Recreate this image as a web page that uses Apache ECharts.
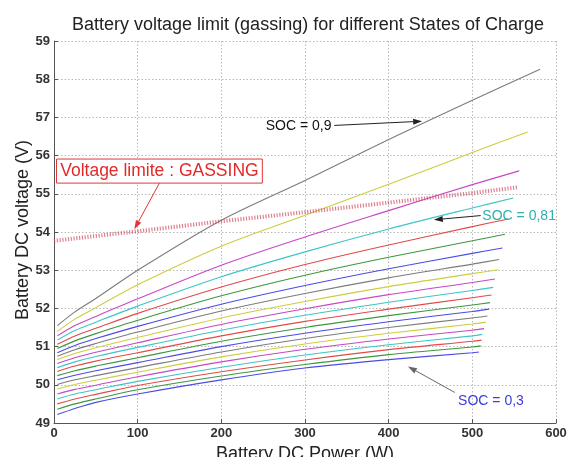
<!DOCTYPE html>
<html>
<head>
<meta charset="utf-8">
<script src="https://cdn.jsdelivr.net/npm/echarts@6/dist/echarts.min.js"></script>
<style>
html,body{margin:0;padding:0;background:#fff;}
#chart{width:573px;height:457px;}
</style>
</head>
<body>
<div id="chart"></div>
<script>
// ---- Data ----
const titleText = 'Battery voltage limit (gassing) for different States of Charge';
const xAxisName = 'Battery DC Power (W)';
const yAxisName = 'Battery DC voltage (V)';
const xTickValues = [0, 100, 200, 300, 400, 500, 600];
const yTickValues = [49, 50, 51, 52, 53, 54, 55, 56, 57, 58, 59];

// State of charge of each curve, from bottom (0.30) to top (0.90)
const socValues = [0.30, 0.33, 0.36, 0.39, 0.42, 0.45, 0.48, 0.51, 0.54, 0.57, 0.60,
                   0.63, 0.66, 0.69, 0.72, 0.75, 0.78, 0.81, 0.84, 0.87, 0.90];
// Power (W) at which each curve was read (last point = curve end, per curve)
const samplePower = [4, 25, 50, 100, 200, 300, 400, 500];
const endPower = [508, 510, 511, 512, 514, 516, 518, 520, 521, 523, 525,
                  527, 531, 532, 536, 539, 543, 549, 556, 566, 581];
// Voltage (V) at samplePower and then at endPower, per curve
const v30 = [49.22, 49.38, 49.54, 49.76, 50.13, 50.44, 50.66, 50.84, 50.86];
const v33 = [49.36, 49.50, 49.63, 49.87, 50.23, 50.53, 50.79, 50.99, 51.02];
const v36 = [49.50, 49.63, 49.75, 49.98, 50.34, 50.65, 50.92, 51.14, 51.17];
const v39 = [49.63, 49.76, 49.87, 50.09, 50.46, 50.78, 51.05, 51.28, 51.32];
const v42 = [49.76, 49.88, 49.99, 50.21, 50.60, 50.93, 51.20, 51.43, 51.47];
const v45 = [49.89, 50.01, 50.12, 50.33, 50.73, 51.07, 51.35, 51.59, 51.64];
const v48 = [50.01, 50.13, 50.24, 50.45, 50.86, 51.21, 51.50, 51.75, 51.80];
const v51 = [50.13, 50.25, 50.37, 50.58, 51.00, 51.35, 51.65, 51.92, 51.98];
const v54 = [50.24, 50.37, 50.49, 50.71, 51.14, 51.50, 51.81, 52.09, 52.15];
const v57 = [50.35, 50.49, 50.62, 50.84, 51.28, 51.66, 51.98, 52.28, 52.35];
const v60 = [50.45, 50.60, 50.74, 50.98, 51.43, 51.82, 52.16, 52.47, 52.55];
const v63 = [50.56, 50.71, 50.85, 51.10, 51.58, 51.99, 52.36, 52.68, 52.77];
const v66 = [50.66, 50.82, 50.97, 51.24, 51.75, 52.18, 52.57, 52.91, 53.01];
const v69 = [50.75, 50.92, 51.08, 51.38, 51.93, 52.39, 52.80, 53.16, 53.28];
const v72 = [50.84, 51.03, 51.21, 51.53, 52.11, 52.60, 53.04, 53.44, 53.58];
const v75 = [50.95, 51.15, 51.34, 51.69, 52.33, 52.87, 53.34, 53.77, 53.94];
const v78 = [51.06, 51.28, 51.48, 51.87, 52.56, 53.15, 53.66, 54.14, 54.34];
const v81 = [51.17, 51.42, 51.64, 52.06, 52.83, 53.48, 54.08, 54.63, 54.89];
const v84 = [51.28, 51.55, 51.79, 52.25, 53.13, 53.87, 54.56, 55.24, 55.60];
const v87 = [51.40, 51.72, 52.02, 52.62, 53.63, 54.44, 55.25, 56.08, 56.62];
const v90 = [51.55, 51.91, 52.26, 53.00, 54.31, 55.35, 56.42, 57.45, 58.26];
const curveVoltages = [v30, v33, v36, v39, v42, v45, v48, v51, v54, v57, v60,
                       v63, v66, v69, v72, v75, v78, v81, v84, v87, v90];

// Gassing voltage limit line
const gassingPower = [0, 100, 200, 300, 400, 500, 554];
const gassingVoltage = [53.77, 54.02, 54.28, 54.52, 54.77, 55.02, 55.17];

// ---- Styles ----
const colorCycle = ['#4b4be6', '#3c983c', '#e24a4a', '#3cc6c6', '#c648c6', '#cdcd40', '#7c7c7c'];
const fontFamily = 'Liberation Sans, Arial, sans-serif';

const chart = echarts.init(document.getElementById('chart'), null, {renderer: 'canvas'});

const series = curveVoltages.map((vals, i) => {
  const pts = samplePower.map((p, k) => [p, vals[k]]);
  pts.push([endPower[i], vals[vals.length - 1]]);
  return {
    name: 'SOC ' + socValues[i],
    type: 'line',
    data: pts,
    smooth: 0.3,
    showSymbol: false,
    lineStyle: {width: 1.1, color: colorCycle[i % colorCycle.length]},
    z: 2 + i * 0.01
  };
});
series.push({
  name: 'gassing',
  type: 'line',
  data: gassingPower.map((p, k) => [p, gassingVoltage[k]]),
  showSymbol: false,
  lineStyle: {width: 4, color: 'rgba(205,70,90,0.68)', type: [1.2, 1.6]},
  z: 5
});

const option = {
  backgroundColor: '#fff',
  animation: false,
  title: {
    text: titleText,
    left: 303, top: 11, textAlign: 'center',
    textStyle: {fontFamily, fontSize: 18, fontWeight: 'normal', color: '#222'}
  },
  grid: {left: 54, right: 17, top: 41, bottom: 34, outerBoundsMode: 'none', containLabel: false},
  xAxis: {
    type: 'value', min: xTickValues[0], max: xTickValues[xTickValues.length - 1], interval: 100,
    name: xAxisName, nameLocation: 'middle', nameGap: 19,
    nameTextStyle: {fontFamily, fontSize: 18, color: '#222', verticalAlign: 'top'},
    axisLine: {onZero: false, lineStyle: {color: '#555', width: 1}},
    axisTick: {inside: true, length: 4, lineStyle: {color: '#555'}},
    axisLabel: {margin: 4, fontFamily, fontSize: 13, fontWeight: 'bold', color: '#333'},
    splitLine: {show: true, lineStyle: {color: '#b8b8b8', type: [1.5, 2], width: 1}}
  },
  yAxis: {
    type: 'value', min: yTickValues[0], max: yTickValues[yTickValues.length - 1], interval: 1,
    axisLine: {show: true, onZero: false, lineStyle: {color: '#555', width: 1}},
    axisTick: {show: true, inside: true, length: 4, lineStyle: {color: '#555'}},
    axisLabel: {margin: 4, fontFamily, fontSize: 13, fontWeight: 'bold', color: '#333'},
    splitLine: {show: true, lineStyle: {color: '#b8b8b8', type: [1.5, 2], width: 1}}
  },
  series
};
chart.setOption(option);

// ---- Annotations (anchored in data coordinates) ----
function px(p) { return chart.convertToPixel({gridIndex: 0}, p); }
function arrow(fromData, toData, color) {
  const a = px(fromData), b = px(toData);
  const ang = Math.atan2(b[1] - a[1], b[0] - a[0]);
  const L = 9, W = 3;
  const bx = b[0] - L * Math.cos(ang), by = b[1] - L * Math.sin(ang);
  const nx = -Math.sin(ang) * W, ny = Math.cos(ang) * W;
  return [
    {type: 'line', shape: {x1: a[0], y1: a[1], x2: bx, y2: by}, style: {stroke: color, lineWidth: 1}, z: 100},
    {type: 'polygon', shape: {points: [[b[0], b[1]], [bx + nx, by + ny], [bx - nx, by - ny]]}, style: {fill: color}, z: 100}
  ];
}
function label(text, atData, color, size) {
  const p = px(atData);
  return {type: 'text', x: p[0], y: p[1], z: 100,
    style: {text, fill: color, font: size + 'px ' + fontFamily, textAlign: 'left', textVerticalAlign: 'middle'}};
}
const g = [];
// Y axis title (rotated), centred on the plot's vertical middle
const yMid = px([0, (yTickValues[0] + yTickValues[yTickValues.length - 1]) / 2]);
g.push({type: 'text', x: yMid[0] - 31, y: yMid[1] - 2, rotation: Math.PI / 2, z: 100,
  style: {text: yAxisName, fill: '#222', font: '18px ' + fontFamily, textAlign: 'center', textVerticalAlign: 'middle'}});
// SOC = 0,9
g.push(label('SOC = 0,9', [253, 56.77], '#111', 14));
g.push(...arrow([335, 56.79], [440, 56.90], '#222'));
// Voltage limite : GASSING (boxed)
const b1 = px([3, 55.91]), b2 = px([249, 55.28]);
g.push({type: 'rect', shape: {x: b1[0], y: b1[1], width: b2[0] - b1[0], height: b2[1] - b1[1]},
  style: {fill: '#fff', stroke: '#e03838', lineWidth: 1}, z: 99});
g.push({type: 'text', x: (b1[0] + b2[0]) / 2, y: (b1[1] + b2[1]) / 2, z: 100,
  style: {text: 'Voltage limite : GASSING', fill: '#e02a2a', font: '17.5px ' + fontFamily,
    textAlign: 'center', textVerticalAlign: 'middle'}});
g.push(...arrow([126, 55.28], [96, 54.07], '#e03838'));
// SOC = 0,81
g.push(label('SOC = 0,81', [512, 54.42], '#2fb0b0', 14));
g.push(...arrow([510, 54.43], [454, 54.32], '#222'));
// SOC = 0,3
g.push(label('SOC = 0,3', [483, 49.57], '#3c3ce0', 14));
g.push(...arrow([479, 49.8], [423, 50.48], '#666'));
chart.setOption({graphic: g});
</script>
</body>
</html>
